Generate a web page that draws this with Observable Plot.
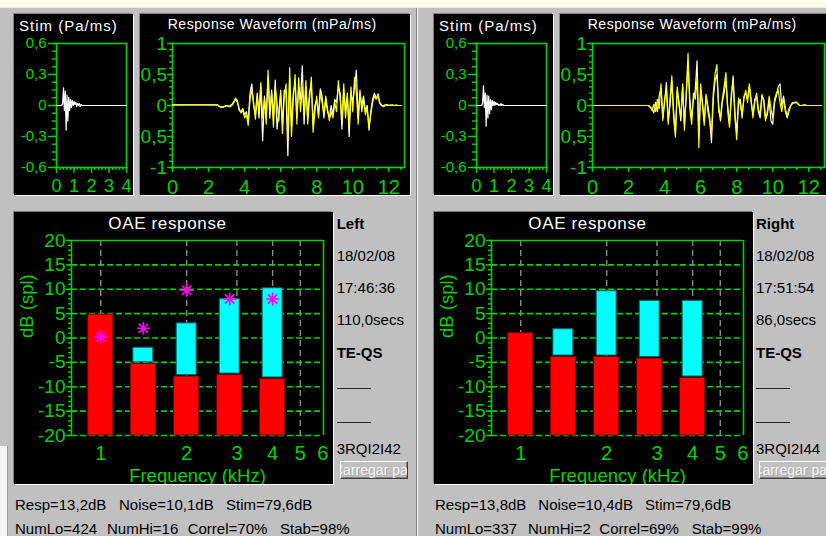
<!DOCTYPE html>
<html>
<head>
<meta charset="utf-8">
<script src="https://cdn.jsdelivr.net/npm/d3@7"></script>
<script src="https://cdn.jsdelivr.net/npm/@observablehq/plot@0.6"></script>
<style>
  html, body { margin: 0; padding: 0; }
  body { width: 826px; height: 536px; overflow: hidden; position: relative; background: #c0c0c0;
         font-family: Arial, "Liberation Sans", sans-serif; color: #000; }
  .abs { position: absolute; white-space: pre; line-height: 1; }
  .panel { position: absolute; background: #000; box-shadow: -1px -1px 0 #808080, 1px 1px 0 #ffffff; }
  .panel svg { display: block; overflow: hidden; }
  .title { color: #fff; }
  .info { font-size: 15px; }
  .bold { font-weight: bold; }
  .rule { position: absolute; height: 0; border-top: 1px solid #222; }
  .button { position: absolute; height: 16px; overflow: hidden; background: #c0c0c0;
            border-top: 1px solid #fff; border-left: 1px solid #fff;
            border-right: 1px solid #404040; border-bottom: 1px solid #404040;
            box-shadow: inset -1px -1px 0 #808080; font-size: 14px; line-height: 16px;
            color: #f6f6f6; text-shadow: 1px 1px 0 #a8a8a8; white-space: nowrap; }
  .button span { position: relative; left: -8px; }
</style>
</head>
<body>
<script>
// ---------- data ----------

// Stimulus click (Pa/ms), sampled every 0.05 ms starting at 0.3 ms
const STIM_T0 = 0.3, STIM_DT = 0.05, STIM_END = 4;
const leftStim = [
  0.0, 0.02, 0.17, -0.05, 0.14, -0.24, 0.1, -0.15, 0.08, -0.05,
  0.06, -0.02, 0.05, 0.0, 0.04, 0.01, 0.03, -0.01, 0.02, 0.0,
  0.02, -0.01, 0.01, 0.0, 0.0, 0.0, 0.0, 0.0, 0.0, 0.0, 0.0
];
const rightStim = [
  0.0, 0.03, 0.19, -0.02, 0.12, -0.2, 0.1, -0.12, 0.09, -0.08,
  0.06, -0.04, 0.05, 0.0, 0.04, 0.0, 0.03, 0.01, 0.02, 0.0,
  0.01, 0.0, 0.02, 0.0, 0.01, 0.0, 0.0, 0.0, 0.0, 0.0, 0.0
];

// Response waveforms (mPa/ms), buffers A (yellow) and B (white),
// sampled every 0.1 ms from 2.5 ms to 12.7 ms
const RESP_T0 = 2.5, RESP_DT = 0.1;
const leftBufA = [
  0.01, -0.02, -0.03, -0.03, -0.02, 0.0, -0.02, -0.02, 0.0, 0.05,
  0.12, 0.08, -0.05, -0.12, -0.08, -0.2, -0.15, -0.32, 0.1, 0.25,
  0.05, -0.22, 0.15, -0.1, 0.37, -0.2, 0.1, -0.3, 0.57, -0.1,
  0.2, -0.35, 0.3, 0.05, -0.25, 0.25, -0.45, 0.15, 0.35, -0.56,
  0.61, -0.5, 0.1, 0.5, -0.3, 0.45, -0.1, 0.3, -0.15, 0.4,
  -0.3, 0.1, 0.46, -0.43, -0.1, 0.15, -0.2, 0.2, 0.05, -0.15,
  0.15, -0.05, -0.24, -0.1, -0.2, 0.05, -0.1, 0.4, 0.1, -0.25,
  0.35, -0.2, 0.15, -0.35, 0.3, -0.1, 0.45, 0.2, -0.3, 0.25,
  -0.1, 0.1, -0.15, -0.05, -0.35, -0.15, 0.05, 0.15, 0.1, 0.19,
  0.05, 0.0, -0.02, 0.0, 0.02, 0.0, 0.01, 0.0, 0.0, 0.01,
  0.0, 0.0, 0.0
];
const leftBufB = [
  0.01, -0.01, -0.02, -0.02, -0.01, 0.0, -0.01, 0.0, 0.02, 0.06,
  0.1, 0.05, -0.08, -0.1, -0.05, -0.15, -0.1, -0.25, 0.2, 0.35,
  0.0, -0.15, 0.2, -0.2, 0.3, -0.57, 0.15, -0.2, 0.45, -0.2,
  0.25, -0.2, 0.41, -0.38, -0.1, 0.2, -0.3, 0.25, 0.2, -0.81,
  0.45, -0.35, 0.2, 0.35, -0.2, 0.3, 0.1, 0.64, -0.3, 0.3,
  -0.2, 0.2, 0.35, -0.3, 0.0, 0.1, -0.15, 0.27, 0.15, -0.2,
  0.1, -0.1, -0.2, 0.0, -0.15, 0.1, 0.05, 0.3, 0.2, -0.38,
  0.25, -0.1, 0.2, -0.5, 0.2, 0.05, 0.3, 0.57, -0.2, 0.2,
  0.0, 0.15, -0.1, 0.0, -0.4, -0.1, 0.1, 0.2, 0.12, 0.15,
  0.03, 0.0, 0.0, 0.01, 0.0, 0.0, 0.0, 0.01, 0.0, 0.0,
  0.0, 0.0, 0.0
];
const rightBufA = [
  0.0, 0.0, 0.0, 0.0, 0.0, 0.0, 0.0, -0.02, -0.08, 0.02,
  -0.1, 0.1, -0.05, 0.35, -0.24, 0.1, 0.25, -0.3, 0.1, 0.48,
  -0.2, -0.51, 0.3, 0.0, -0.2, 0.35, -0.4, 0.2, 0.84, -0.05,
  -0.3, 0.2, 0.1, 0.45, -0.68, 0.35, 0.0, -0.32, 0.18, -0.1,
  -0.25, -0.45, 0.2, 0.51, 0.66, -0.1, -0.2, 0.1, 0.3, 0.53,
  -0.1, -0.35, 0.2, 0.4, -0.2, -0.55, 0.12, 0.0, -0.15, 0.1,
  0.25, 0.05, 0.35, 0.1, -0.2, 0.05, 0.2, -0.05, -0.15, 0.18,
  0.05, -0.25, -0.1, 0.15, -0.05, -0.2, 0.1, 0.2, 0.25, 0.05,
  -0.1, 0.12, -0.05, -0.17, -0.05, 0.0, 0.03, 0.05, 0.06, 0.03,
  0.0, 0.0, 0.01, 0.0, 0.0, 0.0, 0.0, 0.0, 0.0, 0.0,
  0.0, 0.0, 0.0
];
const rightBufB = [
  0.0, 0.0, 0.0, 0.0, 0.0, 0.0, 0.0, -0.03, -0.05, -0.12,
  0.05, -0.1, 0.15, 0.28, -0.2, 0.05, 0.37, -0.25, 0.0, 0.4,
  -0.1, -0.45, 0.25, 0.05, -0.25, 0.3, -0.3, 0.15, 0.7, 0.1,
  -0.2, 0.1, 0.25, 0.72, -0.5, 0.25, 0.05, -0.25, 0.15, 0.0,
  -0.2, -0.6, 0.1, 0.4, 0.5, 0.0, -0.25, 0.05, 0.2, 0.4,
  0.0, -0.3, 0.1, 0.48, -0.1, -0.45, 0.05, 0.1, -0.2, 0.15,
  0.2, 0.1, 0.3, 0.05, -0.15, 0.1, 0.15, -0.1, -0.2, 0.15,
  0.1, -0.2, -0.15, 0.1, -0.25, -0.3, 0.05, 0.15, 0.3, 0.35,
  0.0, 0.15, -0.1, -0.2, -0.1, 0.0, 0.05, 0.04, 0.05, 0.02,
  0.0, 0.0, 0.0, 0.01, 0.0, 0.0, 0.0, 0.0, 0.0, 0.0,
  0.0, 0.0, 0.0
];

// Half-octave analysis bands (kHz) and levels (dB SPL)
const bandKHz = [1, 1.41, 2, 2.83, 4];
const leftNoiseDb = [4.8, -5.3, -7.9, -7.6, -8.4];
const leftRespDb = [null, -2.0, 3.0, 8.0, 10.2];
const leftMarkDb = [0.2, 2.0, 9.8, 8.0, 8.0];
const rightNoiseDb = [1.0, -3.9, -3.9, -4.2, -8.2];
const rightRespDb = [null, 1.8, 9.6, 7.6, 7.6];

// Tick values
const stimYTicks = [-0.6, -0.3, 0, 0.3, 0.6];
const stimXTicks = [0, 1, 2, 3, 4];
const respYTicks = [-1, -0.5, 0, 0.5, 1];
const respXTicks = [0, 2, 4, 6, 8, 10, 12];
const dbTicks = [-20, -15, -10, -5, 0, 5, 10, 15, 20];
const freqTicks = [1, 2, 3, 4, 5, 6];

// Test details
const leftInfo = ["Left", "18/02/08", "17:46:36", "110,0secs", "TE-QS", "3RQI2I42"];
const rightInfo = ["Right", "18/02/08", "17:51:54", "86,0secs", "TE-QS", "3RQI2I44"];
const leftStats1 = ["Resp=13,2dB", "Noise=10,1dB", "Stim=79,6dB"];
const leftStats2 = ["NumLo=424", "NumHi=16", "Correl=70%", "Stab=98%"];
const rightStats1 = ["Resp=13,8dB", "Noise=10,4dB", "Stim=79,6dB"];
const rightStats2 = ["NumLo=337", "NumHi=2", "Correl=69%", "Stab=99%"];

// ---------- drawing ----------
const GREEN = "#00d400";
const FONT = "Arial, 'Liberation Sans', sans-serif";
const comma = d => String(d).replace(".", ",");
const blank = () => "";

function series(samples, t0, dt, end) {
  const pts = [{t: 0, v: samples[0]}];
  samples.forEach((v, i) => pts.push({t: t0 + i * dt, v}));
  if (end != null) pts.push({t: end, v: samples[samples.length - 1]});
  return pts;
}

function box(left, top, width, height, node) {
  const div = document.createElement("div");
  div.className = "panel";
  Object.assign(div.style, {left: left + "px", top: top + "px", width: width + "px", height: height + "px"});
  if (node) div.appendChild(node);
  document.body.appendChild(div);
  return div;
}

function label(text, left, baseline, size, cls = "", extra = {}) {
  const div = document.createElement("div");
  div.className = "abs " + cls;
  div.textContent = text;
  Object.assign(div.style, {left: left + "px", top: (baseline - 0.8465 * size) + "px", fontSize: size + "px"}, extra);
  document.body.appendChild(div);
  return div;
}

const panelStyle = {background: "#000", color: GREEN, fontFamily: FONT, overflow: "hidden"};

function stimPlot(samples) {
  return Plot.plot({
    width: 119, height: 181,
    marginLeft: 42, marginRight: 7, marginTop: 29, marginBottom: 28,
    style: panelStyle,
    x: {domain: [0, 4]},
    y: {domain: [-0.6, 0.6]},
    marks: [
      Plot.axisY(d3.range(-0.6, 0.6001, 0.075), {tickSize: 4, tickFormat: blank, label: null, strokeWidth: 1.4}),
      Plot.axisY(stimYTicks, {tickSize: 8, tickPadding: 2, tickFormat: comma, label: null, fontSize: 15, strokeWidth: 1.4}),
      Plot.axisX(d3.range(0, 4.001, 0.2), {tickSize: 3, tickFormat: blank, label: null, strokeWidth: 1.4}),
      Plot.axisX(stimXTicks, {tickSize: 6, tickPadding: 6, tickFormat: String, label: null, fontSize: 18, strokeWidth: 1.4}),
      Plot.frame({stroke: GREEN, strokeWidth: 1.6}),
      Plot.line(series(samples, STIM_T0, STIM_DT, STIM_END), {x: "t", y: "v", stroke: "#ffffff", strokeWidth: 1.2})
    ]
  });
}

function respPlot(bufA, bufB) {
  return Plot.plot({
    width: 270, height: 181,
    marginLeft: 32, marginRight: 6, marginTop: 29, marginBottom: 28,
    style: panelStyle,
    x: {domain: [0, 12.87]},
    y: {domain: [-1, 1]},
    marks: [
      Plot.axisY(d3.range(-1, 1.001, 0.1), {tickSize: 3, tickFormat: blank, label: null, strokeWidth: 1.4}),
      Plot.axisY(respYTicks, {tickSize: 5, tickPadding: 0.5, tickFormat: comma, label: null, fontSize: 19, strokeWidth: 1.4}),
      Plot.axisX(d3.range(0, 12.9, 2 / 3), {tickSize: 3, tickFormat: blank, label: null, strokeWidth: 1.4}),
      Plot.axisX(respXTicks, {tickSize: 5, tickPadding: 7, tickFormat: String, label: null, fontSize: 20, strokeWidth: 1.4}),
      Plot.frame({stroke: GREEN, strokeWidth: 1.6}),
      Plot.line(series(bufB, RESP_T0, RESP_DT), {x: "t", y: "v", stroke: "#ffffff", strokeWidth: 1.2}),
      Plot.line(series(bufA, RESP_T0, RESP_DT), {x: "t", y: "v", stroke: "#ffff00", strokeWidth: 1.2})
    ]
  });
}

// eight-armed asterisk used for the reproducibility markers
const asterisk8 = {
  draw(ctx, size) {
    const r = Math.sqrt(size / Math.PI), d = r * Math.SQRT1_2;
    ctx.moveTo(-r, 0); ctx.lineTo(r, 0);
    ctx.moveTo(0, -r); ctx.lineTo(0, r);
    ctx.moveTo(-d, -d); ctx.lineTo(d, d);
    ctx.moveTo(-d, d); ctx.lineTo(d, -d);
  }
};

function oaePlot(noise, resp, marks) {
  const bands = bandKHz.map((f, i) => ({f, noise: noise[i], resp: resp[i], mark: marks ? marks[i] : null}));
  const wide = 2 ** 0.147, narrow = 2 ** 0.116; // bar half-widths in octaves
  const signal = bands.filter(d => d.resp != null && d.resp > d.noise);
  const X = [0.79, 6.03];
  return Plot.plot({
    width: 319, height: 272,
    marginLeft: 57, marginRight: 10, marginTop: 28, marginBottom: 49,
    style: panelStyle,
    x: {type: "log", domain: X, axis: null},
    y: {domain: [-20, 20]},
    marks: [
      Plot.ruleX(freqTicks.slice(0, 5), {stroke: "#8c8c8c", strokeWidth: 1.4, strokeDasharray: "6,4"}),
      Plot.ruleY(dbTicks.slice(0, 8), {stroke: GREEN, strokeWidth: 1.6, strokeDasharray: "6,3"}),
      Plot.rect(bands, {x1: d => d.f / wide, x2: d => d.f * wide, y1: () => -20, y2: "noise",
                        fill: "#ff0000", stroke: "#6a0000", strokeWidth: 1}),
      Plot.rect(signal, {x1: d => d.f / narrow, x2: d => d.f * narrow, y1: "noise", y2: "resp",
                         insetBottom: 1.5, fill: "#00ffff", stroke: "#006868", strokeWidth: 1}),
      Plot.ruleY([20], {stroke: GREEN, strokeWidth: 1.6}),
      Plot.ruleX(X, {stroke: GREEN, strokeWidth: 1.6}),
      Plot.axisY(d3.range(-20, 20.001, 1), {tickSize: 3, tickFormat: blank, label: null, strokeWidth: 1.4}),
      Plot.axisY(dbTicks, {tickSize: 5, tickPadding: 1, tickFormat: String, label: null, fontSize: 19, strokeWidth: 1.4}),
      Plot.text(freqTicks, {x: d => d, frameAnchor: "bottom", lineAnchor: "top", dy: 10, text: d => String(d),
                            fontSize: 20, fill: GREEN}),
      Plot.text(["dB (spl)"], {frameAnchor: "left", rotate: -90, dx: -44.5, fontSize: 18.5, fill: GREEN}),
      Plot.text(["Frequency (kHz)"], {frameAnchor: "bottom", lineAnchor: "bottom", dy: 46, fontSize: 18.5, fill: GREEN}),
      ...(marks ? [Plot.dot(bands, {x: "f", y: "mark", symbol: asterisk8, r: 6.5,
                                    stroke: "#ff00ff", strokeWidth: 1.6, fill: "none"})] : [])
    ]
  });
}

// window chrome
const strip = document.createElement("div");
Object.assign(strip.style, {position: "absolute", left: "0px", top: "0px", width: "826px", height: "7px",
  background: "#fdfde9", borderBottom: "1px solid #e6e6e6"});
document.body.appendChild(strip);
const divider = document.createElement("div");
Object.assign(divider.style, {position: "absolute", left: "416px", top: "8px", width: "1px", height: "528px",
  background: "#808080", borderRight: "1px solid #ffffff"});
document.body.appendChild(divider);
const edge = document.createElement("div");
Object.assign(edge.style, {position: "absolute", left: "0px", top: "446px", width: "7px", height: "90px",
  background: "#f4f4f4", borderRight: "1px solid #9a9a9a"});
document.body.appendChild(edge);

function ear(dx, stim, bufA, bufB, noise, resp, marks, info, stats1, stats2, statX1, statX2) {
  box(14 + dx, 14, 119, 181, stimPlot(stim));
  box(140 + dx, 14, 270, 181, respPlot(bufA, bufB));
  box(14 + dx, 212, 319, 272, oaePlot(noise, resp, marks));

  label("Stim (Pa/ms)", 19 + dx, 30.7, 15, "title", {letterSpacing: "1px"});
  label("Response Waveform (mPa/ms)", 167.7 + dx, 29.3, 14, "title", {letterSpacing: "0.55px"});
  label("OAE response", 108.3 + dx, 229, 17, "title", {letterSpacing: "0.65px"});

  const cx = dx === 0 ? 336.7 : 756;
  const rows = [229, 260.3, 292.3, 325, 357.3, 453.3];
  info.forEach((t, i) => label(t, cx, rows[i], 15, "info" + (i === 0 || i === 4 ? " bold" : "")));
  [388.3, 422.3].forEach(y => {
    const r = document.createElement("div");
    r.className = "rule";
    Object.assign(r.style, {left: cx + "px", top: y + "px", width: "34px"});
    document.body.appendChild(r);
  });
  const btn = document.createElement("div");
  btn.className = "button";
  Object.assign(btn.style, {left: (cx + 3.3) + "px", top: "461px", width: (dx === 0 ? 66 : 80) + "px"});
  const span = document.createElement("span");
  span.textContent = "Carregar pa";
  btn.appendChild(span);
  document.body.appendChild(btn);

  stats1.forEach((t, i) => label(t, statX1[i], 510, 15, "info"));
  stats2.forEach((t, i) => label(t, statX2[i], 533.3, 15, "info"));
}

ear(0, leftStim, leftBufA, leftBufB, leftNoiseDb, leftRespDb, leftMarkDb, leftInfo,
    leftStats1, leftStats2, [15, 119, 226], [15, 107, 187.7, 280]);
ear(420, rightStim, rightBufA, rightBufB, rightNoiseDb, rightRespDb, null, rightInfo,
    rightStats1, rightStats2, [435, 538.3, 645], [435, 528, 599.3, 691.7]);
</script>
</body>
</html>
